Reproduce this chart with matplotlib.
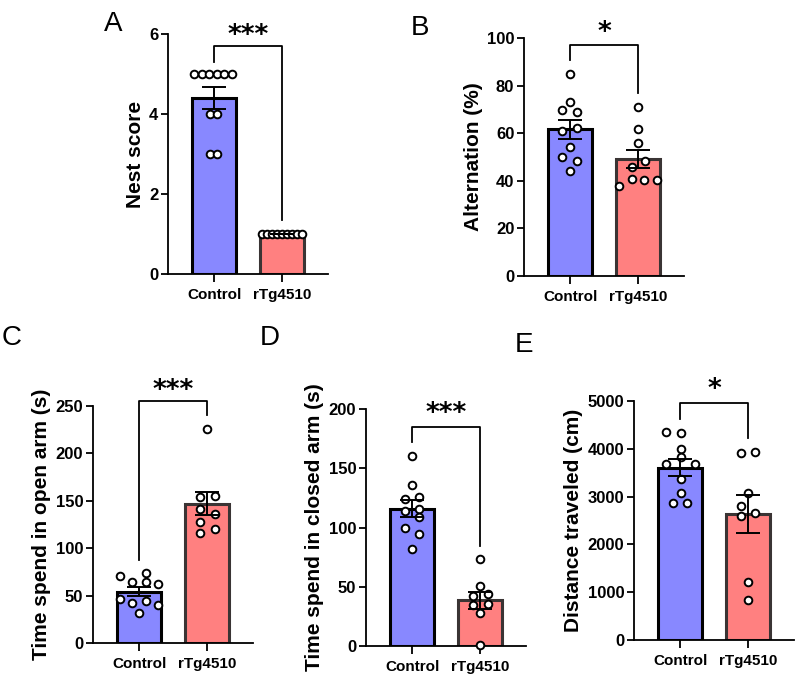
import numpy as np
import matplotlib.pyplot as plt

plt.rcParams['font.family'] = ['Liberation Sans', 'DejaVu Sans']

groups = ['Control', 'rTg4510']
bar_colors = ['#8888ff', '#ff8080']
edge_colors = ['#000000', '#3a3434']

# values, one list per group
nest_ctrl = [5, 5, 5, 5, 5, 5, 4, 4, 3, 3]
nest_rtg = [1, 1, 1, 1, 1, 1, 1, 1, 1]
alt_ctrl = [84.9, 73.0, 69.9, 68.8, 61.1, 62.3, 54.1, 50.1, 48.3, 44.1]
alt_rtg = [71.1, 61.8, 56.0, 48.3, 45.9, 40.6, 40.3, 40.3, 37.9]
open_ctrl = [74.2, 70.7, 64.7, 64.7, 62.2, 46.4, 42.0, 44.0, 40.0, 32.0]
open_rtg = [225.4, 153.7, 155.4, 141.0, 135.8, 128.0, 120.3, 115.7]
closed_ctrl = [160.6, 135.9, 123.8, 126.0, 113.9, 115.6, 109.1, 99.3, 94.3, 81.6]
closed_rtg = [73.2, 50.9, 42.2, 43.6, 34.6, 35.4, 28.1, 0.8]
dist_ctrl = [4358, 4324, 3990, 3822, 3682, 3682, 3361, 3069, 2873, 2873]
dist_rtg = [3905, 3940, 3082, 2803, 2594, 2664, 1220, 837]

# horizontal scatter of the dots (pixels, as drawn in the figure)
nest_jit = ([-20, -12, -5, 3, 10, 18, -4, 3, -4, 3],
            [-20, -15, -10, -5, 0, 5, 10, 15, 20])
alt_jit = ([0, 0, -8, 6.5, -8, 6.5, 0, -8, 6.5, 0],
           [0, 0, 0, 7, -6.5, -6.5, 6, 19, -19])
open_jit = ([6.5, -19.5, -7, 6.5, 19, -19.5, -7, 6.5, 19, 0],
            [0, -7.5, 7.5, -7.5, 7.5, -7.5, 7.5, -7.5])
closed_jit = ([0, 0, -7.5, 7, -7.5, 7, 7, -7.5, 7, 0],
              [0, 0, -7, 7.5, -7, 7.5, 0, 0])
dist_jit = ([-14.5, 0.5, 0.5, 0.5, -14.5, 14.5, 0.5, 0.5, -7, 7],
            [-7.5, 7, 0, -7.5, -7.5, 7, 0, 0])

W, H = 797, 687
SP = 68.0  # pixels between bar centres

fig = plt.figure(figsize=(W / 100, H / 100), dpi=100)


def panel(left, top, bottom, ylim, yticks, ylabel, ctrl, rtg, jit, bracket, stars, letter, lpos):
    ax = fig.add_axes([left / W, 1 - bottom / H, 2.36 * SP / W, (bottom - top) / H])
    for i, vals in enumerate([ctrl, rtg]):
        vals = np.array(vals, dtype=float)
        m = vals.mean()
        sem = vals.std(ddof=1) / np.sqrt(len(vals))
        ax.bar(i, m, width=0.65, color=bar_colors[i], edgecolor=edge_colors[i],
               linewidth=2.2, zorder=1)
        xs = i + np.array(jit[i]) / SP
        ax.plot(xs, vals, 'o', ms=5.5, mfc='white', mec='black', mew=1.4,
                zorder=3, clip_on=False)
        ax.errorbar(i, m, yerr=sem, color='black', elinewidth=1.4, capsize=8.5,
                    capthick=1.4, zorder=4)
    l0, top_y, r0, sy = bracket
    ax.plot([0, 0, 1, 1], [l0, top_y, top_y, r0], color='black', lw=1.3,
            clip_on=False, zorder=5)
    ax.text(0.5, sy, stars, ha='center', va='center', fontsize=19,
            fontweight='bold', family='DejaVu Sans', clip_on=False)
    ax.set_xlim(-0.68, 1.68)
    ax.set_ylim(*ylim)
    ax.set_yticks(yticks)
    ax.set_xticks([0, 1])
    ax.set_xticklabels(groups, fontsize=11, fontweight='bold')
    ax.tick_params(axis='y', labelsize=12, width=1.3, length=5, pad=2)
    ax.tick_params(axis='x', width=1.3, length=6, pad=4)
    for lab in ax.get_yticklabels():
        lab.set_fontweight('bold')
    ax.set_ylabel(ylabel, fontsize=15, fontweight='bold', labelpad=3)
    for s in ['top', 'right']:
        ax.spines[s].set_visible(False)
    for s in ['left', 'bottom']:
        ax.spines[s].set_linewidth(1.3)
    fig.text(lpos[0] / W, 1 - lpos[1] / H, letter, fontsize=20, ha='left', va='top')
    return ax


panel(168, 34, 274, (0, 6), [0, 2, 4, 6], 'Nest score', nest_ctrl, nest_rtg, nest_jit,
      (5.3, 5.7, 1.35, 5.95), '***', 'A', (104, 11))
panel(524, 38, 276, (0, 100), [0, 20, 40, 60, 80, 100], 'Alternation (%)', alt_ctrl, alt_rtg,
      alt_jit, (90.8, 97, 77, 102), '*', 'B', (411, 15))
panel(93, 406, 643, (0, 250), [0, 50, 100, 150, 200, 250], 'Time spend in open arm (s)',
      open_ctrl, open_rtg, open_jit, (88, 255, 240, 266), '***', 'C', (2, 325))
panel(366, 409, 646, (0, 200), [0, 50, 100, 150, 200], 'Time spend in closed arm (s)',
      closed_ctrl, closed_rtg, closed_jit, (172, 184.5, 84, 196), '***', 'D', (260, 325))
panel(634, 401, 640, (0, 5000), [0, 1000, 2000, 3000, 4000, 5000], 'Distance traveled (cm)',
      dist_ctrl, dist_rtg, dist_jit, (4630, 4950, 4220, 5240), '*', 'E', (515, 332))

fig.savefig('out.png', dpi=100)
